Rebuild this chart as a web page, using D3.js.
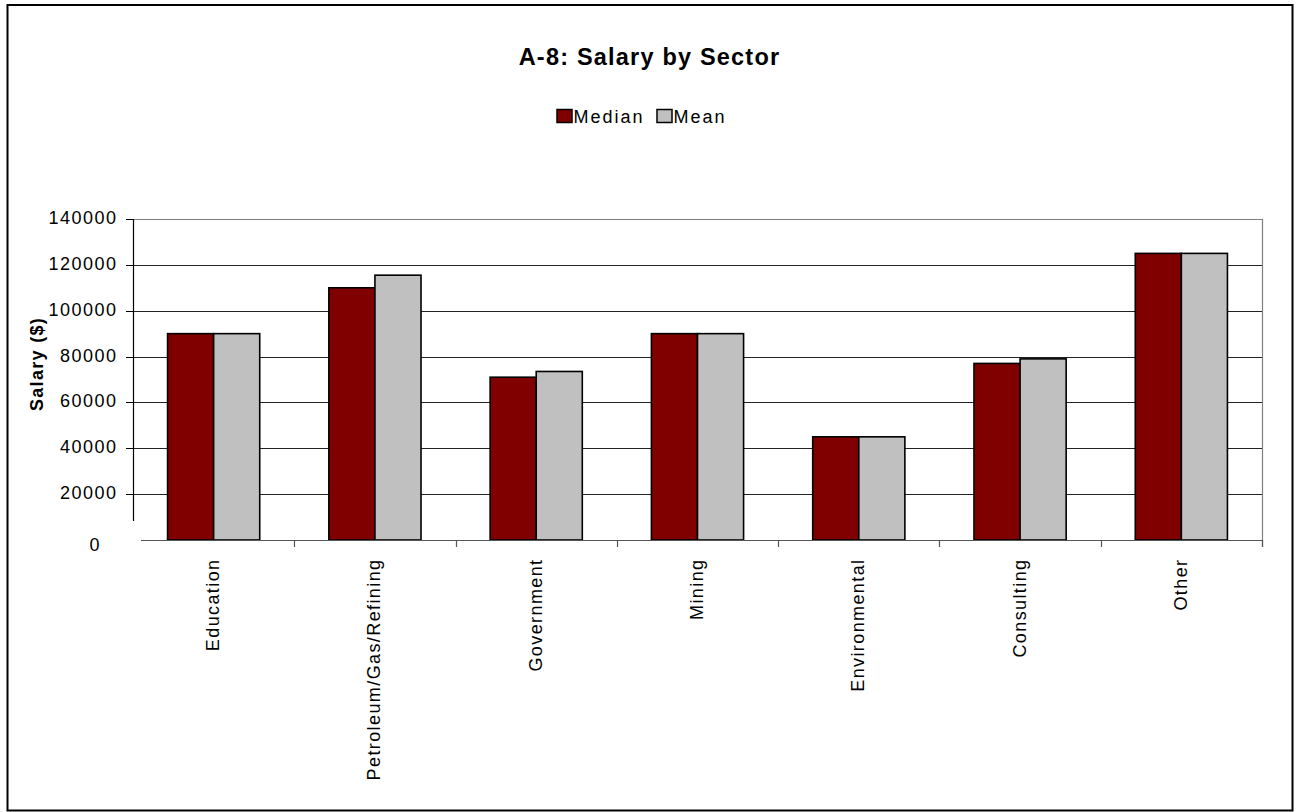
<!DOCTYPE html>
<html>
<head>
<meta charset="utf-8">
<script src="https://cdn.jsdelivr.net/npm/d3@7/dist/d3.min.js"></script>
<style>
  html, body { margin: 0; padding: 0; background: #fff; }
  svg { display: block; }
  text { font-family: "Liberation Sans", Arial, sans-serif; fill: #000; }
</style>
</head>
<body>
<svg id="chart" width="1296" height="812"></svg>
<script>
const categories = ["Education", "Petroleum/Gas/Refining", "Government", "Mining", "Environmental", "Consulting", "Other"];
const seriesNames = ["Median", "Mean"];
const medianValues = [90000, 110000, 71000, 90000, 45000, 77000, 125000];
const meanValues = [90000, 115500, 73500, 90000, 45000, 79000, 125000];
const yTickValues = [0, 20000, 40000, 60000, 80000, 100000, 120000, 140000];
const seriesColors = ["#800000", "#C0C0C0"];
const titleText = "A-8: Salary by Sector";
const yAxisTitle = "Salary ($)";

const rows = categories.map((c, i) => ({ category: c, values: [medianValues[i], meanValues[i]] }));

const svg = d3.select("#chart");
const plotLeft = 133, plotRight = 1262, plotTop = 219, plotBottom = 540;

// outer border
svg.append("rect")
  .attr("x", 7.5).attr("y", 5).attr("width", 1285).attr("height", 805.5)
  .attr("fill", "#fff").attr("stroke", "#000").attr("stroke-width", 2);

const y = d3.scaleLinear().domain([0, 140000]).range([plotBottom, plotTop]);
const x0 = d3.scaleBand().domain(categories).range([plotLeft, plotRight]).padding(0);
const bw = x0.bandwidth();
const x1 = d3.scaleBand().domain(seriesNames).range([bw * 0.75 / 3.5, bw * 2.75 / 3.5]).padding(0);

// gridlines
svg.append("g").selectAll("line")
  .data(yTickValues.filter(v => v > 0))
  .join("line")
  .attr("x1", plotLeft).attr("x2", plotRight)
  .attr("y1", d => Math.round(y(d)) + 0.5).attr("y2", d => Math.round(y(d)) + 0.5)
  .attr("stroke", d => d === 140000 ? "#808080" : "#222")
  .attr("stroke-width", 1);

// right plot border
svg.append("line")
  .attr("x1", plotRight + 0.5).attr("x2", plotRight + 0.5)
  .attr("y1", plotTop).attr("y2", plotBottom + 7)
  .attr("stroke", "#808080").attr("stroke-width", 1.2);

// y axis line (broken near the bottom)
svg.append("line")
  .attr("x1", plotLeft + 0.5).attr("x2", plotLeft + 0.5)
  .attr("y1", plotTop).attr("y2", 521)
  .attr("stroke", "#000").attr("stroke-width", 1.2);

// y ticks
svg.append("g").selectAll("line")
  .data(yTickValues.filter(v => v > 0))
  .join("line")
  .attr("x1", 126).attr("x2", plotLeft)
  .attr("y1", d => Math.round(y(d)) + 0.5).attr("y2", d => Math.round(y(d)) + 0.5)
  .attr("stroke", "#000").attr("stroke-width", 1);

// y tick labels
svg.append("g").selectAll("text")
  .data(yTickValues)
  .join("text")
  .attr("x", d => d === 0 ? 101 : 117.5)
  .attr("y", d => d === 0 ? y(d) + 10.5 : y(d) + 5)
  .attr("text-anchor", "end")
  .attr("font-size", 18)
  .attr("letter-spacing", 1.5)
  .text(d => d3.format("d")(d));

// bars
const groups = svg.append("g").selectAll("g")
  .data(rows)
  .join("g")
  .attr("transform", d => `translate(${x0(d.category)},0)`);

groups.selectAll("rect")
  .data(d => d.values.map((v, i) => ({ series: seriesNames[i], value: v, idx: i })))
  .join("rect")
  .attr("x", d => x1(d.series))
  .attr("y", d => y(d.value))
  .attr("width", x1.bandwidth())
  .attr("height", d => plotBottom - y(d.value))
  .attr("fill", d => seriesColors[d.idx])
  .attr("stroke", "#000")
  .attr("stroke-width", 1.6);

// x baseline
svg.append("line")
  .attr("x1", 141).attr("x2", plotRight)
  .attr("y1", plotBottom + 0.5).attr("y2", plotBottom + 0.5)
  .attr("stroke", "#555").attr("stroke-width", 1.2);

// category boundary ticks
svg.append("g").selectAll("line")
  .data(categories.slice(1).concat(["__end"]))
  .join("line")
  .attr("x1", d => d === "__end" ? plotRight + 0.5 : Math.round(x0(d)) + 0.5)
  .attr("x2", d => d === "__end" ? plotRight + 0.5 : Math.round(x0(d)) + 0.5)
  .attr("y1", plotBottom).attr("y2", plotBottom + 7)
  .attr("stroke", "#555").attr("stroke-width", 1.2);

// category labels
svg.append("g").selectAll("text")
  .data(categories)
  .join("text")
  .attr("transform", d => `translate(${x0(d) + bw / 2 + 5.5},558.5) rotate(-90)`)
  .attr("text-anchor", "end")
  .attr("font-size", 18)
  .attr("letter-spacing", 1.4)
  .text(d => d);

// title
svg.append("text")
  .attr("x", 649.5).attr("y", 64.5)
  .attr("text-anchor", "middle")
  .attr("font-size", 23.5)
  .attr("font-weight", "bold")
  .attr("letter-spacing", 1.2)
  .text(titleText);

// y axis title
svg.append("text")
  .attr("transform", "translate(43,364) rotate(-90)")
  .attr("text-anchor", "middle")
  .attr("font-size", 18)
  .attr("font-weight", "bold")
  .attr("letter-spacing", 1.3)
  .text(yAxisTitle);

// legend
const legendX = [557, 657];
const legend = svg.append("g").selectAll("g")
  .data(seriesNames)
  .join("g")
  .attr("transform", (d, i) => `translate(${legendX[i]},109.5)`);
legend.append("rect")
  .attr("width", 15).attr("height", 13)
  .attr("fill", (d, i) => seriesColors[i])
  .attr("stroke", "#000").attr("stroke-width", 1.5);
legend.append("text")
  .attr("x", 16.5).attr("y", 13.2)
  .attr("font-size", 18)
  .attr("letter-spacing", 2)
  .text(d => d);
</script>
</body>
</html>
